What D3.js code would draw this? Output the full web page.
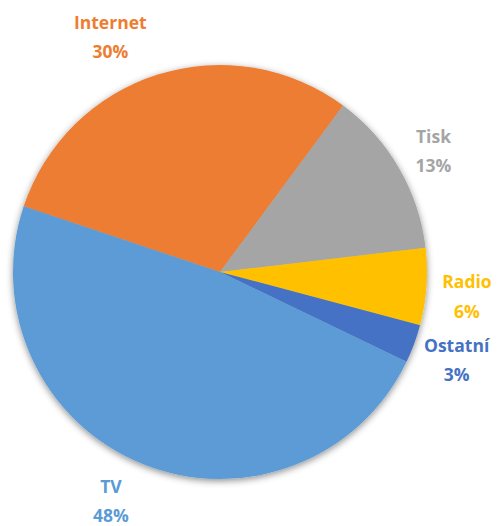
<!DOCTYPE html>
<html>
<head>
<meta charset="utf-8">
<script src="https://cdn.jsdelivr.net/npm/d3@7"></script>
<style>
  html, body { margin: 0; padding: 0; background: #fff; }
  svg { display: block; }
</style>
</head>
<body>
<svg id="chart" width="500" height="526"></svg>
<script>
// Data
const categories = ["Internet", "Tisk", "Radio", "Ostatní", "TV"];
const values = [30, 13, 6, 3, 48];
const colors = ["#ED7D31", "#A5A5A5", "#FFC000", "#4472C4", "#5B9BD5"];
const percentLabels = ["30%", "13%", "6%", "3%", "48%"];

// Layout
const W = 500, H = 526;
const cx = 220, cy = 272, R = 207;
const startDeg = -71.5;
const labelAngleNudge = [-8.2, 2, 3.2, 1.6, 2.7];   // degrees, best-fit placement
const labelRadiusNudge = [0, -11, -4, 2, 7];

const svg = d3.select("#chart");
const defs = svg.append("defs");
const f = defs.append("filter").attr("id", "shadow")
  .attr("x", "-10%").attr("y", "-10%").attr("width", "120%").attr("height", "120%");
f.append("feDropShadow").attr("dx", 0).attr("dy", 2).attr("stdDeviation", 3.5)
  .attr("flood-color", "#000").attr("flood-opacity", 0.45);

const data = categories.map((c, i) => ({ name: c, value: values[i], color: colors[i], pct: percentLabels[i], i }));

const toRad = d => d * Math.PI / 180;
const pie = d3.pie().value(d => d.value).sort(null)
  .startAngle(toRad(startDeg)).endAngle(toRad(startDeg + 360));
const arcs = pie(data);
const arc = d3.arc().innerRadius(0).outerRadius(R);

const g = svg.append("g").attr("transform", `translate(${cx},${cy})`);
g.append("g").attr("filter", "url(#shadow)")
  .selectAll("path").data(arcs).join("path")
  .attr("d", arc)
  .attr("fill", d => d.data.color);

const baseLabelR = R + 46;
const labels = g.append("g").selectAll("text").data(arcs).join("text")
  .attr("text-anchor", "middle")
  .attr("font-family", "'Open Sans', Lato, sans-serif")
  .attr("font-weight", "bold")
  .attr("font-size", 17.5)
  .attr("fill", d => d.data.color)
  .attr("transform", d => {
    const a = (d.startAngle + d.endAngle) / 2 + toRad(labelAngleNudge[d.data.i]);
    const r = baseLabelR + labelRadiusNudge[d.data.i];
    return `translate(${r * Math.sin(a)},${-r * Math.cos(a)})`;
  });
labels.append("tspan").attr("x", 0).attr("y", -15.5).text(d => d.data.name);
labels.append("tspan").attr("x", 0).attr("y", 14).text(d => d.data.pct);
</script>
</body>
</html>
